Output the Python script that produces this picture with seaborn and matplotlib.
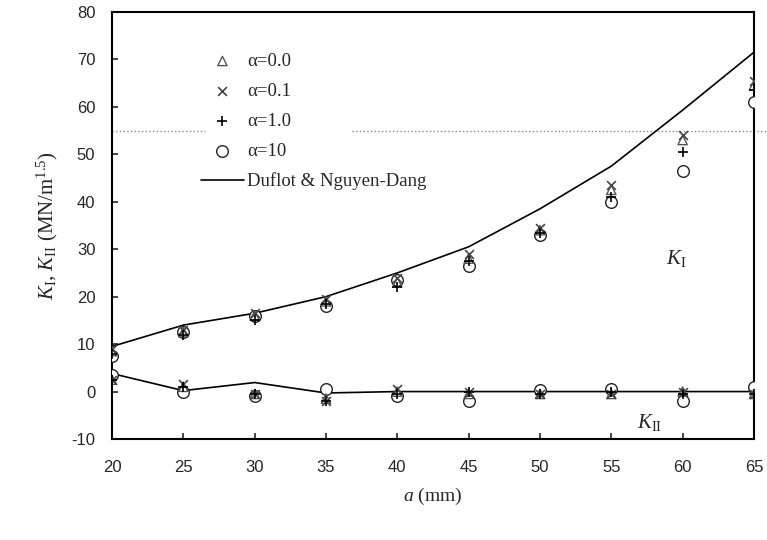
import numpy as np
import pandas as pd
import seaborn as sns
import matplotlib
matplotlib.use("Agg")
import matplotlib.pyplot as plt

a_mm = [20, 25, 30, 35, 40, 45, 50, 55, 60, 65]

# Duflot & Nguyen-Dang reference curves
ref_k1 = [9.5, 14.0, 16.5, 20.0, 25.0, 30.5, 38.5, 47.5, 59.3, 71.5]
ref_k2 = [3.8, 0.2, 1.9, -0.3, 0.0, 0.0, 0.0, 0.0, 0.0, 0.0]

# K_I for each alpha
k1_a00 = [8.5, 12.5, 16.0, 19.0, 23.0, 28.0, 34.0, 42.5, 53.0, 64.5]
k1_a01 = [9.0, 13.0, 16.5, 19.5, 24.0, 29.0, 34.5, 43.5, 54.0, 65.5]
k1_a10 = [8.0, 12.0, 15.0, 18.5, 22.0, 27.5, 33.5, 41.0, 50.5, 63.5]
k1_a100 = [7.5, 12.5, 16.0, 18.0, 23.5, 26.5, 33.0, 40.0, 46.5, 61.0]

# K_II for each alpha
k2_a00 = [2.5, 1.0, -0.5, -1.5, 0.0, -0.5, -0.5, -0.5, 0.0, -0.5]
k2_a01 = [2.5, 1.5, -0.5, -2.0, 0.5, 0.0, -0.5, -0.5, 0.0, -0.5]
k2_a10 = [2.5, 1.0, -0.5, -2.0, -0.5, 0.0, -0.5, 0.0, -0.5, -0.5]
k2_a100 = [3.5, 0.0, -1.0, 0.5, -1.0, -2.0, 0.3, 0.5, -2.0, 1.0]

sns.set_style("white")
plt.rcParams["font.family"] = ["Liberation Serif", "DejaVu Serif"]
plt.rcParams["mathtext.fontset"] = "custom"
plt.rcParams["mathtext.rm"] = "Liberation Serif"
plt.rcParams["mathtext.it"] = "Liberation Serif:italic"
plt.rcParams["axes.unicode_minus"] = False

fig = plt.figure(figsize=(7.67, 5.4), dpi=100)
ax = fig.add_axes([0.146, 0.187, 0.837, 0.791])

series = [
    ("α=0.0", k1_a00, k2_a00, "^", "#555555", "none", 45, 4),
    ("α=0.1", k1_a01, k2_a01, "x", "#444444", None, 40, 4),
    ("α=1.0", k1_a10, k2_a10, "+", "black", None, 55, 4),
    ("α=10", k1_a100, k2_a100, "o", "#222222", "white", 70, 3),
]

for label, k1, k2, mk, col, fc, sz, z in series:
    for vals, lab in ((k1, label), (k2, None)):
        kw = dict(x=a_mm, y=vals, marker=mk, s=sz, ax=ax, label=lab, zorder=z)
        if fc is None:
            kw.update(color=col, linewidth=1.2)
        else:
            kw.update(facecolor=fc, edgecolor=col, linewidth=1.0)
        sns.scatterplot(**kw)

sns.lineplot(x=a_mm, y=ref_k1, color="black", linewidth=1.2, ax=ax,
             label="Duflot & Nguyen-Dang", zorder=2)
sns.lineplot(x=a_mm, y=ref_k2, color="black", linewidth=1.2, ax=ax, zorder=2)

# dotted reference line at 55, interrupted behind the legend
for x0, x1 in ((0.0, 0.145), (0.374, 1.02)):
    ax.axhline(55, xmin=x0, xmax=x1, color="#888888", linestyle=":",
               linewidth=1.0, clip_on=False, zorder=1)

ax.set_xlim(20, 65)
ax.set_ylim(-10, 80)
ax.set_xticks(range(20, 66, 5))
ax.set_yticks(range(-10, 81, 10))
ax.tick_params(direction="in", length=4, width=1.2, labelsize=12,
               left=True, bottom=True)
ax.tick_params(axis="x", pad=15)
ax.tick_params(axis="y", pad=12)
for t in ax.get_xticklabels() + ax.get_yticklabels():
    t.set_fontfamily("Liberation Sans")
for sp in ax.spines.values():
    sp.set_color("black")
    sp.set_linewidth(1.5)

ax.set_xlabel("$a$ (mm)", fontsize=14, labelpad=8)
ax.set_ylabel("$K_\\mathrm{I}$, $K_\\mathrm{II}$ (MN/m$^{1.5}$)", fontsize=15,
              labelpad=8)

ax.text(58.8, 26.8, "$K_\\mathrm{I}$", fontsize=15)
ax.text(56.8, -7.6, "$K_\\mathrm{II}$", fontsize=15)

leg = ax.legend(loc="upper left", bbox_to_anchor=(0.118, 0.935), frameon=False,
                fontsize=13.5, handlelength=2.3, handletextpad=0.15,
                labelspacing=0.68, borderpad=0.2)

fig.savefig("out.png", dpi=100)
